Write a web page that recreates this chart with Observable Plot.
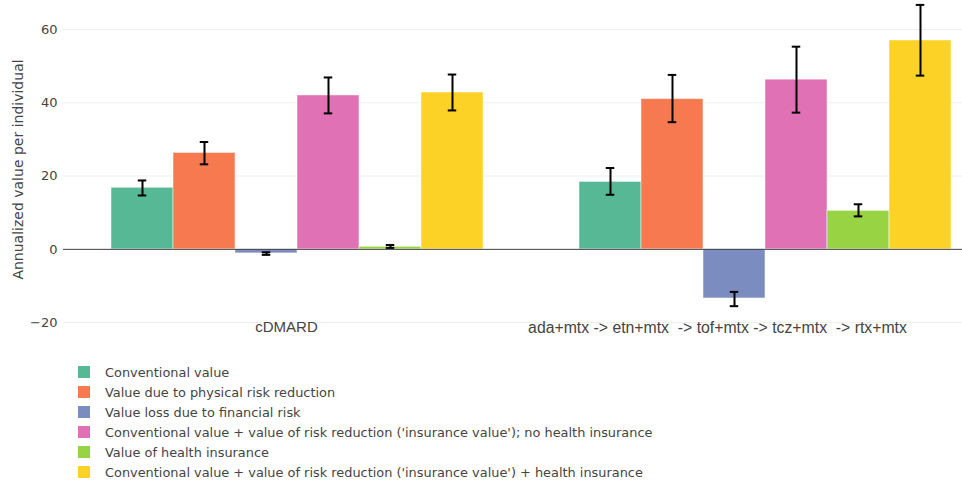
<!DOCTYPE html>
<html>
<head>
<meta charset="utf-8">
<script src="https://cdn.jsdelivr.net/npm/d3@7"></script>
<script src="https://cdn.jsdelivr.net/npm/@observablehq/plot@0.6"></script>
<style>
  html, body { margin: 0; padding: 0; background: #fff; }
  #wrap { width: 962px; overflow: hidden; position: relative; }
  #chart svg { max-width: none !important; }
  #legend { margin: 17px 0 0 78px; font-family: "DejaVu Sans", Verdana, sans-serif; font-size: 12.9px; color: #444; }
  .row { height: 20px; display: flex; align-items: center; }
  .sw { width: 12px; height: 12px; margin-right: 15px; flex: none; }
</style>
</head>
<body>
<div id="wrap"><div id="chart"></div>
<div id="legend"></div></div>
<script>
const groups = ["cDMARD", "ada+mtx -> etn+mtx  -> tof+mtx -> tcz+mtx  -> rtx+mtx"];
const series = [
  "Conventional value",
  "Value due to physical risk reduction",
  "Value loss due to financial risk",
  "Conventional value + value of risk reduction ('insurance value'); no health insurance",
  "Value of health insurance",
  "Conventional value + value of risk reduction ('insurance value') + health insurance"
];
const colors = ["#56b894", "#f7794f", "#7b8dc0", "#df71b4", "#98d343", "#fdd226"];

const cdmardValues = [16.8, 26.3, -1.1, 42.0, 0.7, 42.8];
const cdmardLow    = [14.7, 23.2, -1.5, 37.1, 0.4, 37.9];
const cdmardHigh   = [18.8, 29.3, -0.8, 46.9, 1.2, 47.7];

const seqValues = [18.4, 41.0, -13.4, 46.3, 10.5, 57.0];
const seqLow    = [14.9, 34.7, -15.5, 37.3, 9.0, 47.4];
const seqHigh   = [22.2, 47.6, -11.6, 55.3, 12.3, 66.7];

const yTicks = [-20, 0, 20, 40, 60];
const yTitle = "Annualized value per individual";

const rows = [];
[[cdmardValues, cdmardLow, cdmardHigh], [seqValues, seqLow, seqHigh]].forEach(([v, lo, hi], gi) => {
  series.forEach((s, si) => rows.push({group: groups[gi], series: s, value: v[si], lo: lo[si], hi: hi[si]}));
});

const labelFont = {fontFamily: "Liberation Sans, Arial, sans-serif", fill: "#444", frameAnchor: "bottom", lineAnchor: "middle"};

const chart = Plot.plot({
  width: 1000,
  height: 345,
  marginLeft: 63,
  marginRight: 1,
  marginTop: 0,
  marginBottom: 21,
  style: {fontFamily: "DejaVu Sans, Verdana, sans-serif", color: "#444", background: "#fff", maxWidth: "none", overflow: "visible"},
  fx: {domain: groups, padding: 0, axis: null},
  x: {domain: series, paddingInner: 0, paddingOuter: 0.744, axis: null},
  y: {domain: [-20.5, 67.9], axis: null},
  color: {domain: series, range: colors},
  marks: [
    Plot.gridY(yTicks, {stroke: "#eee", strokeOpacity: 1, strokeWidth: 1}),
    Plot.barY(rows, {fx: "group", x: "series", y: "value", fill: "series", stroke: "#fff", strokeOpacity: 0.5, strokeWidth: 1}),
    Plot.ruleY([0], {stroke: "#444", strokeWidth: 1}),
    Plot.ruleX(rows, {fx: "group", x: "series", y1: "lo", y2: "hi", stroke: "#000", strokeWidth: 2}),
    Plot.tickY(rows, {fx: "group", x: "series", y: "lo", stroke: "#000", strokeWidth: 2, insetLeft: 26.75, insetRight: 26.75}),
    Plot.tickY(rows, {fx: "group", x: "series", y: "hi", stroke: "#000", strokeWidth: 2, insetLeft: 26.75, insetRight: 26.75}),
    Plot.axisY(yTicks, {tickSize: 0, tickPadding: 6, fontSize: 13, label: null, fill: "#444"}),
    Plot.text([yTitle], {fx: () => groups[0], text: d => d, frameAnchor: "left", textAnchor: "middle", rotate: -90, dx: -45, dy: 7, fontSize: 14, fill: "#444"}),
    Plot.text([groups[0]], {fx: d => d, text: d => d, dx: -11, dy: 3, fontSize: 15, ...labelFont}),
    Plot.text([groups[1]], {fx: d => d, text: d => d, dx: -48, dy: 3, fontSize: 15.8, ...labelFont})
  ]
});
document.getElementById("chart").appendChild(chart);

const legend = document.getElementById("legend");
series.forEach((s, i) => {
  const r = document.createElement("div");
  r.className = "row";
  const sw = document.createElement("span");
  sw.className = "sw";
  sw.style.background = colors[i];
  const t = document.createElement("span");
  t.textContent = s;
  r.appendChild(sw); r.appendChild(t);
  legend.appendChild(r);
});
</script>
</body>
</html>
